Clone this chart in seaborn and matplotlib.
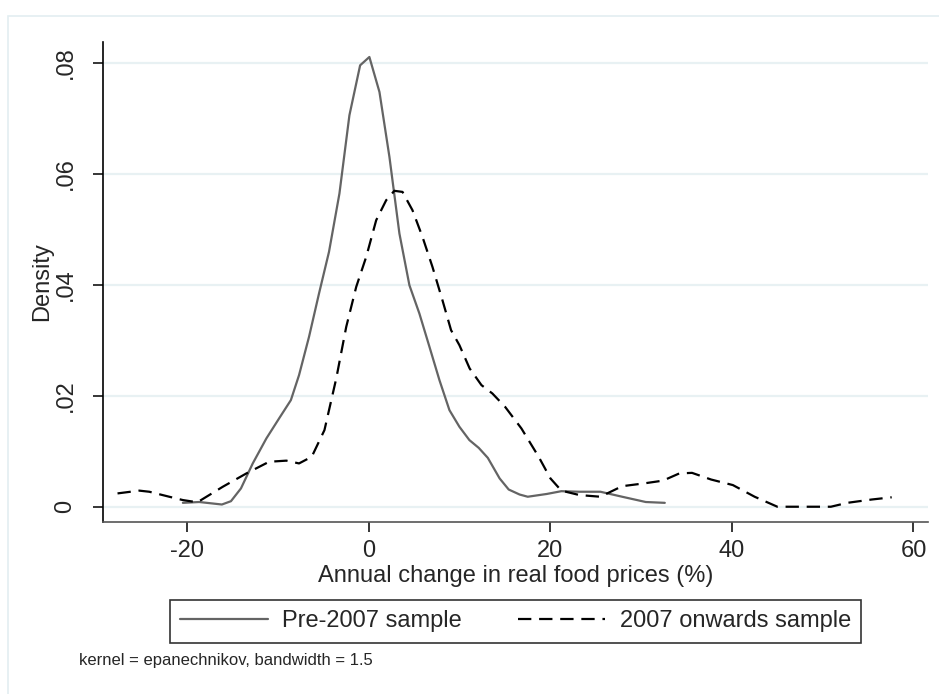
import pandas as pd
import matplotlib.pyplot as plt
import matplotlib.patches as mpatches
import seaborn as sns

# Kernel density curves (x = % change, y = density)
pre_x = [-20.5, -18.7, -16.2, -15.2, -14.1, -12.8, -11.3, -9.9, -8.6, -7.7, -6.6, -5.5, -4.4,
         -3.25, -2.15, -0.97, 0.05, 1.16, 2.26, 3.36, 4.46, 5.56, 6.67, 7.77, 8.87, 9.97,
         11.07, 12.1, 13.1, 14.4, 15.4, 16.6, 17.5, 19.6, 21.2, 23.2, 25.5, 27.9, 30.5, 32.6]
pre_y = [0.0007, 0.00085, 0.0004, 0.001, 0.0033, 0.0078, 0.0123, 0.0159, 0.0192, 0.0237,
         0.0306, 0.0384, 0.0459, 0.0564, 0.0705, 0.0795, 0.081, 0.0747, 0.063, 0.0492, 0.0399,
         0.0348, 0.0288, 0.0228, 0.0174, 0.0144, 0.012, 0.0106, 0.0088, 0.0051, 0.0031, 0.0022,
         0.0018, 0.0023, 0.0028, 0.0027, 0.0027, 0.0018, 0.00085, 0.0007]

post_x = [-27.7, -25.3, -24.2, -22.0, -20.5, -18.9, -16.1, -13.5, -11.0, -9.1, -7.7, -6.3,
          -4.9, -3.6, -2.5, -1.4, -0.3, 0.8, 1.9, 2.8, 3.7, 4.8, 5.9, 7.0, 8.1, 9.05, 9.97,
          11.1, 12.4, 13.6, 15.0, 16.8, 18.7, 20.0, 21.2, 23.2, 25.5, 27.9, 30.3, 32.4, 34.2,
          35.6, 37.7, 40.1, 42.5, 45.0, 47.6, 50.9, 52.7, 55.4, 57.6]
post_y = [0.0024, 0.0029, 0.0027, 0.0018, 0.0012, 0.0008, 0.0036, 0.006, 0.0081, 0.0083,
          0.0078, 0.009, 0.0138, 0.0231, 0.0324, 0.0396, 0.045, 0.0516, 0.0552, 0.0569, 0.0567,
          0.0534, 0.0486, 0.0432, 0.0372, 0.0318, 0.0291, 0.0249, 0.0219, 0.0204, 0.018, 0.0141,
          0.009, 0.0051, 0.0029, 0.0021, 0.0018, 0.0037, 0.0042, 0.0047, 0.006, 0.0061, 0.0049,
          0.0039, 0.0018, 0.0, 0.0, 0.0, 0.0007, 0.0013, 0.0017]

x_ticks = [-20, 0, 20, 40, 60]
y_ticks = [0, 0.02, 0.04, 0.06, 0.08]
y_tick_labels = ['0', '.02', '.04', '.06', '.08']

pre_df = pd.DataFrame({'x': pre_x, 'density': pre_y})
post_df = pd.DataFrame({'x': post_x, 'density': post_y})

sns.set_style('white')
plt.rcParams['font.family'] = ['Liberation Sans', 'DejaVu Sans']

fig = plt.figure(figsize=(9.39, 6.94), dpi=100)
ax = fig.add_axes([103 / 939, 1 - 522 / 694, (928 - 103) / 939, (522 - 42) / 694])

# light outer frame like the Stata graph region
fig.patches.append(mpatches.Rectangle((8 / 939, -0.1), 1.2, 1 - 16 / 694 + 0.1,
                                      transform=fig.transFigure, fill=False,
                                      edgecolor='#e3eef1', linewidth=1.2))

for yt in y_ticks:
    ax.axhline(yt, color='#e8f1f3', linewidth=1.6, zorder=0)

sns.lineplot(data=pre_df, x='x', y='density', ax=ax, color='#646464', linewidth=1.6,
             label='Pre-2007 sample', sort=False)
sns.lineplot(data=post_df, x='x', y='density', ax=ax, color='black', linewidth=1.6,
             label='2007 onwards sample', sort=False, dashes=False)
ax.lines[-1].set_dashes((6, 3.5))

ax.set_xlim(-29.3, 61.6)
ax.set_ylim(-0.00275, 0.0837)
ax.set_xticks(x_ticks)
ax.set_xticklabels([str(t) for t in x_ticks])
ax.set_yticks(y_ticks)
ax.set_yticklabels(y_tick_labels, rotation=90, va='center')

for side in ['top', 'right']:
    ax.spines[side].set_visible(False)
for side in ['left', 'bottom']:
    ax.spines[side].set_color('black')
    ax.spines[side].set_linewidth(1.2)
ax.spines['bottom'].set_color('#555555')

ax.tick_params(axis='both', direction='out', length=7, width=1.1, color='black',
               labelsize=17, left=True, bottom=True)
ax.tick_params(axis='y', pad=12)
ax.tick_params(axis='x', pad=6)

ax.set_xlabel('Annual change in real food prices (%)', fontsize=17, labelpad=2)
ax.set_ylabel('Density', fontsize=17, labelpad=1)

ax.get_legend().remove()
handles, labels = ax.get_legend_handles_labels()
handles[1].set_dashes((6, 3.5))
leg = fig.legend(handles, labels, loc='center', bbox_to_anchor=(0.549, 0.105), ncol=2,
                 fontsize=17, frameon=True, fancybox=False, handlelength=3.7,
                 handletextpad=0.6, columnspacing=2.4, borderpad=0.45)
leg.get_frame().set_edgecolor('black')
leg.get_frame().set_linewidth(1.2)

fig.text(79 / 939, 1 - 660 / 694, 'kernel = epanechnikov, bandwidth = 1.5', fontsize=12,
         ha='left', va='center')

plt.savefig('out.png', dpi=100)
